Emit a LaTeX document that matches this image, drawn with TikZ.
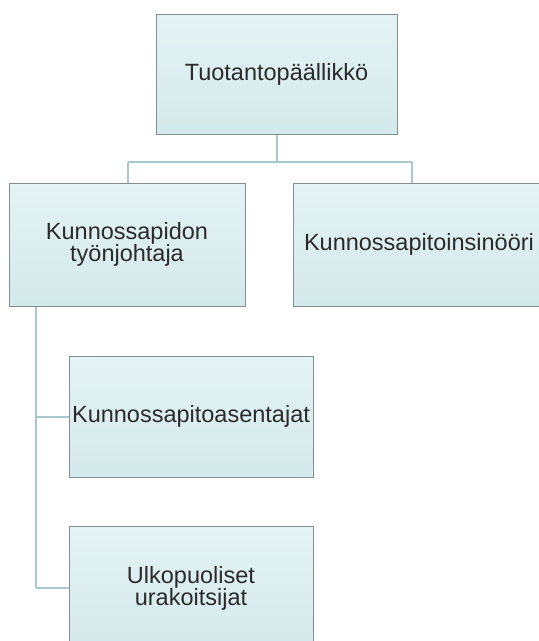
\documentclass[tikz,border=0pt]{standalone}
\usepackage{fontspec}
\setmainfont{Liberation Sans}
\definecolor{boxtop}{HTML}{E4F3F4}
\definecolor{boxbot}{HTML}{D4E9EB}
\definecolor{boxline}{HTML}{848F90}
\definecolor{conn}{HTML}{A7C9CD}
\definecolor{txt}{HTML}{2B2B2B}
\tikzset{
  orgfont/.style={text=txt, font=\fontsize{23.5}{22}\selectfont},
  orgbox/.style={draw=boxline, line width=1pt, top color=boxtop, bottom color=boxbot,
    rectangle, inner sep=0pt, align=center, orgfont},
  link/.style={draw=conn, line width=2pt}
}
\begin{document}
\begin{tikzpicture}[x=1pt,y=-1pt]
\useasboundingbox (0,0) rectangle (539,641);
\clip (0,0) rectangle (539,641);
\fill[white] (0,0) rectangle (539,641);
% connectors
\coordinate (a0) at (277,134);
\coordinate (j1) at (277,162);
\coordinate (jl) at (128,162);
\coordinate (jr) at (412,162);
\coordinate (bl) at (128,183);
\coordinate (cr) at (412,183);
\coordinate (v0) at (36,306);
\coordinate (vd) at (36,417);
\coordinate (ve) at (36,588);
\coordinate (dd) at (69,417);
\coordinate (ee) at (69,588);
\draw[link] (a0) -- (j1);
\draw[link] (jl) -- (jr);
\draw[link] (jl) -- (bl);
\draw[link] (jr) -- (cr);
\draw[link] (v0) -- (ve);
\draw[link] (vd) -- (dd);
\draw[link] (ve) -- (ee);
% boxes
\node[orgbox, minimum width=241pt, minimum height=120pt] (a) at (276.5,74) {Tuotantopäällikkö};
\node[orgbox, minimum width=236pt, minimum height=123pt] (b) at (127,244.5) {Kunnossapidon\\työnjohtaja};
\node[orgbox, minimum width=256pt, minimum height=123pt, anchor=west] (c) at (293,244.5) {};
\node[orgfont] (ct) at (419,244.5) {Kunnossapitoinsinööri};
\node[orgbox, minimum width=244pt, minimum height=121pt] (d) at (191,416.5) {Kunnossapitoasentajat};
\node[orgbox, minimum width=244pt, minimum height=124pt, anchor=north] (e) at (191,526) {};
\node[orgfont, align=center] (et) at (191,588) {Ulkopuoliset\\urakoitsijat};
\end{tikzpicture}
\end{document}
